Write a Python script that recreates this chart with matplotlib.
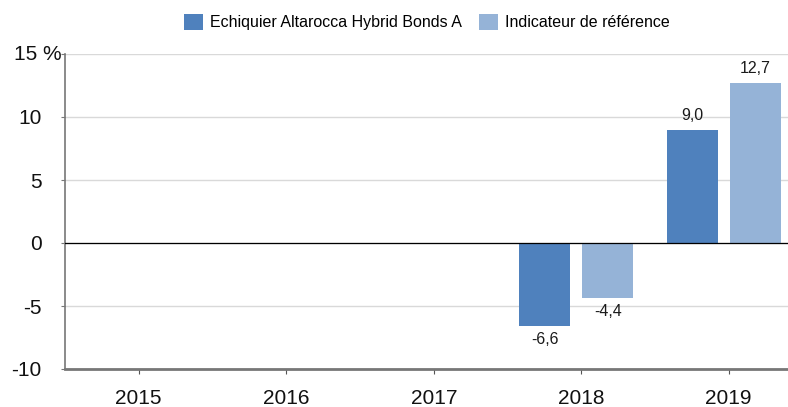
import matplotlib
matplotlib.use("Agg")
import matplotlib.pyplot as plt
import numpy as np

plt.rcParams['font.family'] = ['Liberation Sans', 'DejaVu Sans']

years = ["2015", "2016", "2017", "2018", "2019"]
fund = [np.nan, np.nan, np.nan, -6.6, 9.0]
bench = [np.nan, np.nan, np.nan, -4.4, 12.7]
fund_labels = ["", "", "", "-6,6", "9,0"]
bench_labels = ["", "", "", "-4,4", "12,7"]
series_names = ["Echiquier Altarocca Hybrid Bonds A", "Indicateur de référence"]
yticks = [-10, -5, 0, 5, 10, 15]
ytick_labels = ["-10", "-5", "0", "5", "10", ""]
top_label = "15 %"

c_dark = "#4F81BD"
c_light = "#95B3D7"

fig = plt.figure(figsize=(7.88, 4.07), dpi=100)
ax = fig.add_axes([65/788, 38/407, 737.5/788, 315/407])

x = np.arange(len(years))
w = 0.346
off_d = -0.247
off_l = 0.180
b1 = ax.bar(x + off_d, fund, width=w, color=c_dark, label=series_names[0])
b2 = ax.bar(x + off_l, bench, width=w, color=c_light, label=series_names[1])

for bars, labs, vals in ((b1, fund_labels, fund), (b2, bench_labels, bench)):
    for rect, lab, v in zip(bars, labs, vals):
        if not lab:
            continue
        cx = rect.get_x() + rect.get_width() / 2
        if v >= 0:
            ax.annotate(lab, (cx, v), xytext=(0, 5), textcoords="offset points",
                        ha="center", va="bottom", fontsize=11.5, color="#1a1a1a")
        else:
            ax.annotate(lab, (cx, v), xytext=(0, -4), textcoords="offset points",
                        ha="center", va="top", fontsize=11.5, color="#1a1a1a")

ax.set_xlim(-0.5, 4.5)
ax.set_ylim(-10, 15)
ax.set_xticks(x)
ax.set_xticklabels(years, fontsize=15)
ax.set_yticks(yticks)
ax.set_yticklabels(ytick_labels, fontsize=15)
ax.grid(axis="y", color="#d9d9d9", linewidth=1)
ax.set_axisbelow(True)
ax.axhline(0, color="black", linewidth=0.9, zorder=3)

for s in ("top", "right"):
    ax.spines[s].set_visible(False)
ax.spines["left"].set_color("#777777")
ax.spines["left"].set_linewidth(1.2)
ax.spines["bottom"].set_color("#777777")
ax.spines["bottom"].set_linewidth(2)
ax.spines["bottom"].set_zorder(4)
ax.tick_params(axis="y", length=3, color="#777777", pad=13.7, labelcolor="#111111")
ax.tick_params(axis="x", length=3.5, color="#555555", pad=11, labelcolor="#111111")

ax.text(62/788, 1 - 55/407, top_label, transform=fig.transFigure, fontsize=15,
        ha="right", va="center", color="#111111")

fig.legend(handles=[b1, b2], labels=series_names, loc="center", bbox_to_anchor=(427/788, 1 - 22/407),
           ncol=2, frameon=False, fontsize=11.5, handlelength=1.19, handleheight=1.19,
           handletextpad=0.45, columnspacing=1.06)

fig.savefig("out.png", dpi=100)
